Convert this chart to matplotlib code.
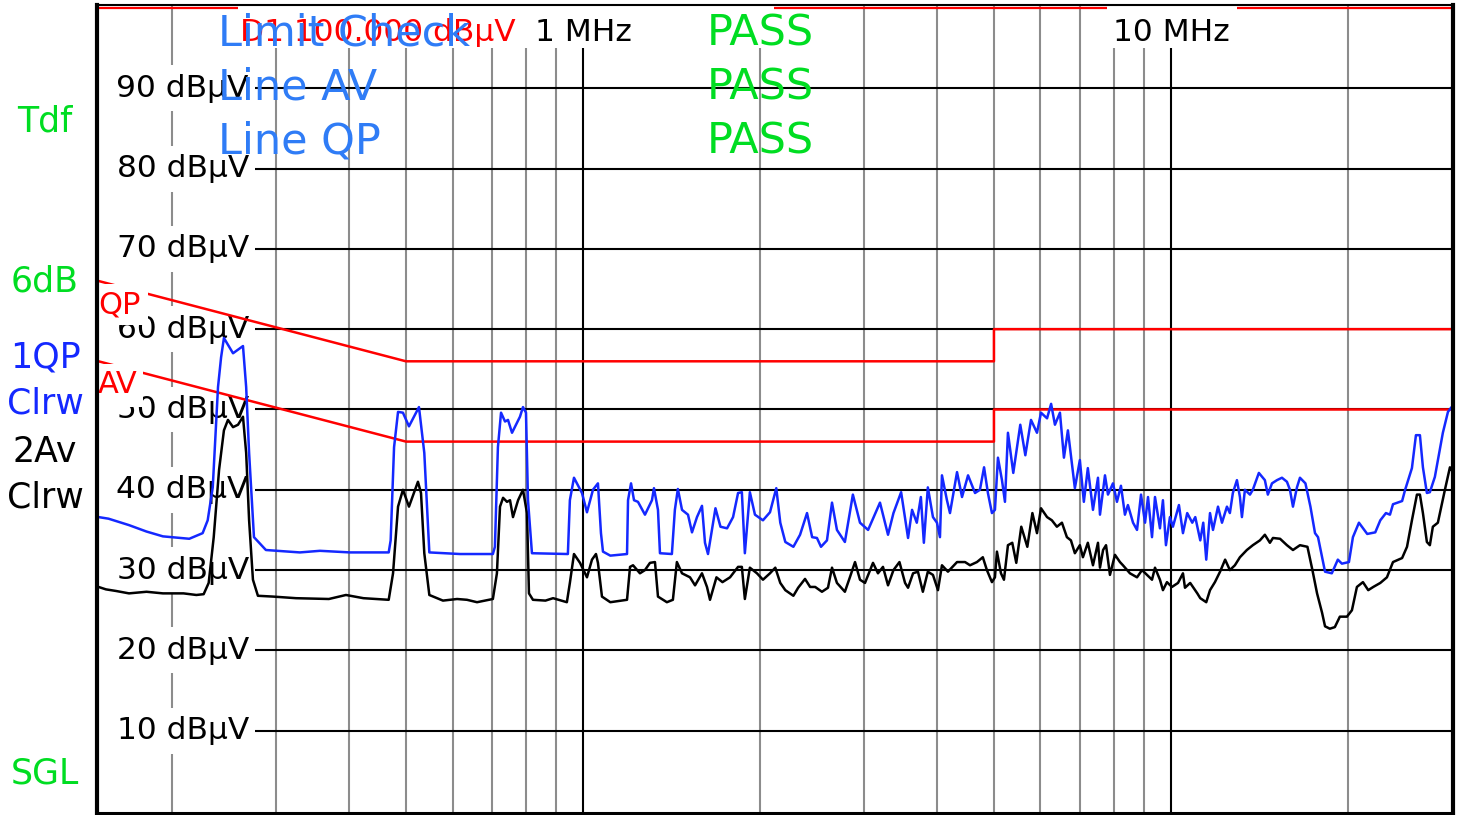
import matplotlib
matplotlib.use("Agg")
import matplotlib.pyplot as plt
import matplotlib.transforms as mtransforms
from matplotlib.patches import Rectangle

# EMI scan, frequency in MHz, level in dBuV

# trace 1: QP clear/write (blue)
qp_freq = [0.150, 0.156, 0.169, 0.181, 0.193, 0.214, 0.2255, 0.230, 0.2346, 0.2395, 0.2424, 0.2451, 0.254, 0.2641, 0.2674, 0.2705, 0.2757, 0.2889,
           0.330, 0.357, 0.4016, 0.4673, 0.4709, 0.4772, 0.4847, 0.4941, 0.5059, 0.5261, 0.5372, 0.5479,
           0.618, 0.7027, 0.7083, 0.7167, 0.7255, 0.737, 0.7456, 0.7574, 0.7814, 0.7906, 0.800, 0.8063, 0.8189,
           0.9426, 0.950, 0.9654, 0.9961, 1.0158, 1.0399, 1.0604, 1.073, 1.0815, 1.113, 1.1883,
           1.193, 1.2071, 1.2213, 1.2403, 1.2748, 1.3102, 1.3205, 1.3414, 1.3519, 1.4165,
           1.4332, 1.4501, 1.4738, 1.5088, 1.5326, 1.5628, 1.5937, 1.6126, 1.6317, 1.6801, 1.7134, 1.7582, 1.800, 1.8356, 1.8631, 1.8851, 1.9225, 1.9611, 2.0236,
           2.080, 2.132, 2.1656, 2.2087, 2.2797, 2.340, 2.4047, 2.4534, 2.500, 2.5399, 2.600, 2.6519, 2.7037, 2.789, 2.8777, 2.959, 3.0544,
           3.200, 3.3023, 3.3734, 3.4762, 3.5718, 3.6283, 3.6962, 3.7556, 3.800, 3.8597, 3.9377, 4.000, 4.0472, 4.079, 4.1596, 4.2093,
           4.327, 4.4125, 4.5177, 4.643, 4.733, 4.8102, 4.8833, 4.961, 5.0196, 5.079, 5.1595, 5.2203, 5.2818,
           5.3933, 5.5432, 5.654, 5.781, 5.9181, 6.0118, 6.1561, 6.2547, 6.349, 6.4745, 6.5766, 6.6797, 6.8644, 7.000, 7.110, 7.222, 7.3689, 7.5147,
           7.5737, 7.7234, 7.8147, 7.9688, 8.0944, 8.2221, 8.3511, 8.4494, 8.6209, 8.7563, 8.8942, 9.0353, 9.1415, 9.2853, 9.3944, 9.579, 9.6912, 9.8063, 9.9609,
           10.078, 10.318, 10.482, 10.658, 10.871, 11.0, 11.217, 11.349, 11.483, 11.653, 11.79, 12.024, 12.213, 12.452, 12.596, 12.744, 12.949, 13.102, 13.205, 13.36, 13.627, 13.781,
           14.11, 14.446, 14.616, 14.854, 15.147, 15.446, 15.75, 15.937, 16.126, 16.38, 16.574, 16.933, 17.268, 17.581, 17.789, 18.071, 18.284, 18.777, 19.224, 19.534, 20.078,
           20.394, 20.88, 21.57, 22.259, 22.703, 23.208, 23.578, 23.859, 24.727, 25.021, 25.696, 26.102, 26.513, 26.826, 27.246, 27.566, 28.11, 29.005, 29.59, 29.94]
qp_level = [36.6, 36.4, 35.6, 34.8, 34.2, 33.9, 34.6, 36.2, 40.3, 52.8, 56.5, 58.9, 57.0, 57.9, 52.8, 44.6, 34.1, 32.5,
            32.2, 32.4, 32.2, 32.2, 33.7, 45.3, 49.7, 49.6, 47.9, 50.3, 44.6, 32.2,
            32.0, 32.0, 32.9, 45.3, 49.6, 48.5, 48.7, 47.1, 49.1, 50.3, 49.6, 38.7, 32.1,
            32.0, 38.7, 41.5, 39.6, 37.2, 40.0, 40.8, 34.6, 32.3, 31.8, 32.0,
            38.7, 40.8, 38.7, 38.5, 36.9, 38.7, 40.2, 37.5, 32.1, 32.0,
            37.5, 40.1, 37.5, 36.9, 34.7, 36.6, 38.0, 33.4, 32.0, 37.7, 35.4, 35.2, 36.6, 39.6, 39.7, 32.1, 39.7, 36.9, 36.2,
            37.2, 40.2, 35.9, 33.5, 32.9, 34.4, 37.1, 34.1, 34.0, 32.9, 33.7, 38.4, 35.0, 33.5, 39.4, 35.9, 35.0,
            38.4, 34.4, 37.1, 39.7, 34.0, 37.5, 35.9, 39.1, 33.4, 40.3, 36.6, 35.9, 34.1, 41.8, 38.7, 37.1,
            42.2, 39.1, 41.8, 39.6, 40.0, 42.8, 39.6, 37.1, 37.5, 44.0, 41.2, 38.5, 47.1,
            42.1, 48.1, 44.3, 48.7, 47.1, 49.6, 48.9, 50.7, 48.1, 49.6, 44.0, 47.4, 40.2, 43.7, 38.5, 42.7, 37.5, 41.5,
            36.9, 41.8, 39.4, 40.8, 38.5, 40.5, 36.9, 38.1, 35.9, 35.0, 39.4, 35.9, 39.1, 34.1, 39.1, 35.2, 38.7, 33.1, 36.6,
            35.4, 38.1, 34.6, 37.1, 35.9, 36.6, 33.7, 35.9, 31.3, 37.1, 35.0, 37.9, 35.9, 37.9, 37.1, 39.6, 41.2, 39.1, 36.6, 40.0, 39.4, 40.0,
            42.1, 41.2, 39.4, 40.8, 41.2, 41.5, 41.0, 40.0, 37.9, 40.3, 41.5, 40.8, 37.9, 34.6, 34.1, 31.6, 29.8, 29.6, 31.3, 30.8, 31.0,
            34.1, 35.9, 34.5, 34.7, 36.2, 37.1, 36.9, 38.2, 38.6, 40.0, 42.7, 46.8, 46.8, 42.8, 39.6, 39.7, 41.6, 47.1, 49.7, 50.2]

# trace 2: average clear/write (black)
av_freq = [0.150, 0.1544, 0.1606, 0.169, 0.181, 0.193, 0.2092, 0.220, 0.2264, 0.2309, 0.2355, 0.2405, 0.2451, 0.249, 0.254, 0.259, 0.2641, 0.2674, 0.2705, 0.2746, 0.280,
           0.2971, 0.3251, 0.3697, 0.3953, 0.4233, 0.4673, 0.4753, 0.4847, 0.4941, 0.5059, 0.524, 0.5303, 0.5372, 0.5479,
           0.5779, 0.6108, 0.6349, 0.6604, 0.7027, 0.7139, 0.7226, 0.7313, 0.7426, 0.7515, 0.7603, 0.7756, 0.7906, 0.8031, 0.8094, 0.8221,
           0.8634, 0.8895, 0.9389, 0.950, 0.9654, 0.9885, 1.0158, 1.0359, 1.0522, 1.0604, 1.0772, 1.113,
           1.1883, 1.2024, 1.2166, 1.250, 1.2748, 1.300, 1.3257, 1.3414, 1.3891, 1.4221,
           1.4445, 1.4738, 1.5207, 1.551, 1.5937, 1.6253, 1.6445, 1.6867, 1.7268, 1.7788, 1.8356, 1.8631, 1.8851, 1.9225, 1.9765, 2.0236,
           2.080, 2.1237, 2.1656, 2.2087, 2.2797, 2.3226, 2.3859, 2.434, 2.4828, 2.5494, 2.6102, 2.6519, 2.7037, 2.789, 2.8442, 2.9019, 2.959, 3.0176,
           3.1136, 3.175, 3.2378, 3.3023, 3.3734, 3.4536, 3.5302, 3.5718, 3.6425, 3.713, 3.7851, 3.8597, 3.9377, 4.0157, 4.079, 4.176,
           4.327, 4.4648, 4.5531, 4.678, 4.787, 4.864, 4.961, 5.0196, 5.0589, 5.1394, 5.200, 5.2818, 5.3719, 5.4571,
           5.5648, 5.6983, 5.8124, 5.9181, 6.0118, 6.1561, 6.2733, 6.3977, 6.5255, 6.6535, 6.7594, 6.8644, 7.000, 7.0841, 7.222, 7.3689, 7.5147,
           7.5737, 7.6662, 7.7555, 7.8755, 8.0314, 8.19, 8.2867, 8.5164, 8.7563, 8.929, 9.106, 9.2853, 9.3944, 9.579, 9.6912, 9.8449, 10.039,
           10.281, 10.482, 10.565, 10.783, 11.088, 11.217, 11.483, 11.653, 11.88, 12.121, 12.364, 12.596, 12.846, 13.102, 13.461, 13.781, 14.168, 14.446, 14.734, 14.912,
           15.331, 15.75, 16.126, 16.574, 17.067, 17.403, 17.722, 18.071, 18.284, 18.631, 19.0, 19.378, 19.922, 20.315,
           20.716, 21.21, 21.655, 22.086, 22.703, 23.3, 23.859, 24.727, 25.206, 25.696, 26.204, 26.513, 26.826, 27.246, 27.566, 27.891, 28.443, 29.239, 29.82, 30.0]
av_level = [27.9, 27.6, 27.4, 27.1, 27.3, 27.1, 27.1, 26.9, 27.0, 28.4, 34.1, 42.5, 47.4, 48.7, 47.8, 48.1, 49.1, 44.6, 36.2, 28.8, 26.8,
            26.7, 26.5, 26.4, 26.9, 26.5, 26.3, 29.6, 37.9, 40.0, 37.9, 41.0, 39.6, 32.1, 26.9,
            26.2, 26.4, 26.3, 26.0, 26.4, 29.6, 37.9, 39.0, 38.5, 38.7, 36.6, 38.7, 40.0, 37.1, 27.1, 26.3,
            26.2, 26.5, 26.0, 28.4, 32.0, 30.9, 29.1, 31.3, 32.0, 30.9, 26.7, 26.0,
            26.3, 30.4, 30.6, 29.6, 30.0, 30.9, 31.0, 26.7, 26.0, 26.3,
            31.0, 29.6, 29.1, 28.1, 29.6, 27.9, 26.3, 29.1, 28.5, 29.1, 30.4, 30.4, 26.4, 30.3, 29.6, 28.8,
            29.6, 30.3, 28.4, 27.5, 26.8, 27.8, 28.9, 27.9, 27.9, 27.3, 27.8, 30.3, 28.4, 27.3, 29.1, 31.0, 28.8, 28.4,
            30.9, 29.6, 30.4, 28.1, 30.0, 31.0, 28.4, 27.8, 29.6, 29.8, 27.3, 29.8, 29.4, 27.5, 30.6, 29.8,
            31.0, 31.0, 30.6, 31.0, 31.6, 30.0, 28.5, 29.1, 32.3, 29.6, 28.8, 33.1, 33.4, 30.9,
            35.4, 32.9, 37.1, 34.6, 37.7, 36.6, 36.2, 35.4, 35.9, 34.1, 33.7, 32.1, 33.1, 31.6, 33.4, 30.6, 33.4,
            30.3, 32.5, 33.1, 29.4, 31.9, 31.0, 30.6, 29.6, 29.1, 30.0, 29.4, 28.8, 30.3, 28.8, 27.5, 28.5, 27.9,
            28.4, 29.6, 27.8, 28.4, 27.1, 26.5, 26.0, 27.5, 28.5, 29.8, 31.3, 30.0, 30.6, 31.6, 32.5, 33.1, 33.7, 34.4, 33.4, 34.0,
            33.9, 33.1, 32.5, 33.1, 32.9, 30.0, 27.1, 24.7, 23.0, 22.7, 22.9, 24.2, 24.2, 25.0,
            27.9, 28.5, 27.5, 27.9, 28.4, 29.1, 31.0, 31.5, 32.9, 36.2, 39.4, 39.4, 37.1, 33.5, 33.1, 35.4, 35.9, 40.0, 42.8, 42.5]

# limit lines (EN 55032 class B style)
limit_freq = [0.15, 0.5, 5.0, 5.0, 30.0]
qp_limit = [66, 56, 56, 60, 60]
av_limit = [56, 46, 46, 50, 50]
display_line = 100.0

level_ticks = [10, 20, 30, 40, 50, 60, 70, 80, 90]
major_freqs = [1, 10]
minor_freqs = [0.2, 0.3, 0.4, 0.5, 0.6, 0.7, 0.8, 0.9, 2, 3, 4, 5, 6, 7, 8, 9, 20]

check_rows = ["Limit Check", "Line AV", "Line QP"]
check_result = ["PASS", "PASS", "PASS"]

GREEN = "#00dd22"
LBLUE = "#2f7cf6"
BLUE = "#1428ff"
GRAY = "#8c8c8c"

fig = plt.figure(figsize=(14.65, 8.15), dpi=100)
ax = fig.add_axes([97 / 1465, 1 - 813 / 815, 1356 / 1465, 808 / 815])
ax.set_xscale("log")
ax.set_xlim(0.1491, 30.18)
ax.set_ylim(-0.25, 100.37)
ax.tick_params(which="both", length=0, labelbottom=False, labelleft=False)

for s in ax.spines.values():
    s.set_zorder(10)
    s.set_color("black")
ax.spines["left"].set_linewidth(3)
ax.spines["right"].set_linewidth(3)
ax.spines["bottom"].set_linewidth(2.2)
ax.spines["top"].set_linewidth(1.5)

# grid
for f in minor_freqs:
    ax.axvline(f, color=GRAY, lw=1.5, zorder=1)
for f in major_freqs:
    ax.axvline(f, color="black", lw=1.5, zorder=1)
for v in level_ticks:
    ax.axhline(v, color="black", lw=1.5, zorder=1)
ax.axhline(display_line, color="red", lw=1.6, zorder=1.5)

trans = mtransforms.blended_transform_factory(ax.transAxes, ax.transData)

# level labels with white boxes
for v in level_ticks:
    ax.add_patch(Rectangle((0, v - 2.86), 0.1165, 5.72, transform=trans,
                           fc="white", ec="none", zorder=2))
    ax.text(0.112, v, "%d dBµV" % v, transform=trans, ha="right", va="center",
            fontsize=22.5, color="black", zorder=3)

# limit lines and traces
ax.plot(limit_freq, qp_limit, color="red", lw=1.8, zorder=4)
ax.plot(limit_freq, av_limit, color="red", lw=1.8, zorder=4)
ax.plot(av_freq, av_level, color="black", lw=1.8, zorder=5)
ax.plot(qp_freq, qp_level, color=BLUE, lw=1.8, zorder=5)

# limit line names
ax.add_patch(Rectangle((0, 60.52), 0.0376, 5.11, transform=trans, fc="white", ec="none", zorder=6))
ax.add_patch(Rectangle((0, 50.31), 0.0339, 5.36, transform=trans, fc="white", ec="none", zorder=6))
ax.text(0.0008, 63.0, "QP", transform=trans, ha="left", va="center", fontsize=22, color="red", zorder=7)
ax.text(0.0008, 53.05, "AV", transform=trans, ha="left", va="center", fontsize=22, color="red", zorder=7)

# top annotation row
ax.add_patch(Rectangle((0.1040, 95.0), 0.3949, 5.5, transform=trans, fc="white", ec="none", zorder=6))
ax.add_patch(Rectangle((0.7448, 95.0), 0.0959, 5.5, transform=trans, fc="white", ec="none", zorder=6))
ax.text(0.1055, 97.0, "D1 100.000 dBµV", transform=trans, ha="left", va="center",
        fontsize=22.5, color="red", zorder=7)
for f in major_freqs:
    ax.text(f, 97.0, "%d MHz" % f, ha="center", va="center", fontsize=22.5, color="black", zorder=7)

row_y = [96.8, 90.1, 83.4]
for name, res, y in zip(check_rows, check_result, row_y):
    ax.text(0.0892, y, name, transform=trans, ha="left", va="center",
            fontsize=31, color=LBLUE, zorder=8)
    ax.text(0.4499, y, res, transform=trans, ha="left", va="center",
            fontsize=31, color=GREEN, zorder=8)

# side panel labels
side = [("Tdf", 122, GREEN), ("6dB", 281, GREEN), ("1QP", 357, BLUE), ("Clrw", 403, BLUE),
        ("2Av", 452, "black"), ("Clrw", 497, "black"), ("SGL", 773, GREEN)]
for txt, ypx, col in side:
    fig.text(45 / 1465, 1 - ypx / 815, txt, ha="center", va="center", fontsize=25, color=col)

fig.savefig("out.png", dpi=100, facecolor="white")
